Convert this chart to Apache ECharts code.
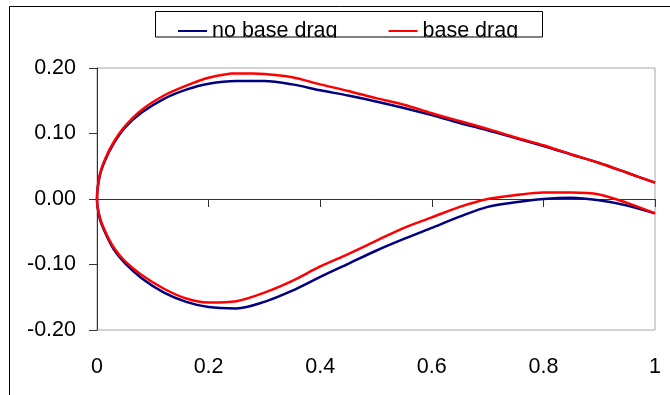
<!DOCTYPE html>
<html>
<head>
<meta charset="utf-8">
<script src="https://cdn.jsdelivr.net/npm/echarts@6/dist/echarts.min.js"></script>
<style>
  html, body { margin: 0; padding: 0; background: #fff; }
  #chart { width: 670px; height: 395px; }
</style>
</head>
<body>
<div id="chart"></div>
<script>
// values, trailing edge (upper) -> leading edge -> trailing edge (lower)
var upperX = [1.0, 0.95, 0.9, 0.85, 0.8, 0.75, 0.7, 0.65, 0.6, 0.55, 0.5, 0.45, 0.4, 0.35, 0.3, 0.25, 0.2, 0.16, 0.12, 0.08, 0.05, 0.03, 0.015, 0.005, 0];
var lowerX = [0, 0.005, 0.015, 0.03, 0.05, 0.08, 0.12, 0.16, 0.2, 0.25, 0.3, 0.35, 0.4, 0.45, 0.5, 0.55, 0.6, 0.65, 0.7, 0.75, 0.8, 0.85, 0.9, 0.95, 1.0];

var noDragUpper = [0.025, 0.040, 0.055, 0.068, 0.081, 0.093, 0.105, 0.116, 0.128, 0.139, 0.149, 0.158, 0.166, 0.175, 0.180, 0.180, 0.176, 0.167, 0.153, 0.132, 0.109, 0.085, 0.060, 0.036, 0];
var noDragLower = [0, -0.030, -0.052, -0.077, -0.098, -0.121, -0.143, -0.157, -0.165, -0.167, -0.157, -0.140, -0.119, -0.099, -0.079, -0.061, -0.044, -0.027, -0.012, -0.005, 0.000, 0.002, -0.002, -0.010, -0.022];

var baseDragUpper = [0.025, 0.040, 0.055, 0.068, 0.082, 0.094, 0.107, 0.119, 0.131, 0.144, 0.154, 0.165, 0.175, 0.186, 0.191, 0.192, 0.185, 0.173, 0.158, 0.136, 0.111, 0.087, 0.062, 0.037, 0];
var baseDragLower = [0, -0.028, -0.050, -0.074, -0.095, -0.116, -0.137, -0.152, -0.158, -0.156, -0.143, -0.125, -0.103, -0.084, -0.064, -0.044, -0.028, -0.012, 0.000, 0.006, 0.010, 0.010, 0.007, -0.006, -0.022];

var seriesNames = ['no base drag', 'base drag'];
var seriesColors = ['#000080', '#ff0000'];

function buildPairs(up, low) {
    var pts = [];
    for (var i = 0; i < upperX.length; i++) pts.push([upperX[i], up[i]]);
    for (var j = 1; j < lowerX.length; j++) pts.push([lowerX[j], low[j]]);
    return pts;
}

var font = "'Liberation Sans', Arial, sans-serif";
var dom = document.getElementById('chart');
var chart = echarts.init(dom, null, { renderer: 'canvas' });

var option = {
    animation: false,
    backgroundColor: '#fff',
    textStyle: { fontFamily: font, color: '#000' },
    legend: {
        data: seriesNames,
        left: 178,
        top: 20,
        padding: 0,
        itemGap: 51,
        itemWidth: 29,
        itemHeight: 2,
        icon: 'rect',
        textStyle: { fontFamily: font, fontSize: 21.5, color: '#000' }
    },
    grid: {
        left: 97,
        right: 15,
        top: 68,
        bottom: 65,
        show: true,
        borderColor: '#a6a6a6',
        borderWidth: 1,
        backgroundColor: '#fff'
    },
    xAxis: [
        {
            type: 'value',
            min: 0, max: 1, interval: 0.2,
            position: 'bottom',
            axisLine: { show: false, onZero: false },
            axisTick: { show: false },
            splitLine: { show: false },
            axisLabel: {
                margin: 26,
                fontSize: 21.5,
                fontFamily: font,
                color: '#000',
                formatter: function (v) { return (v === 0 || v === 1) ? String(v) : v.toFixed(1); }
            }
        },
        {
            type: 'value',
            min: 0, max: 1, interval: 0.2,
            position: 'bottom',
            axisLine: { show: true, onZero: true, lineStyle: { color: '#333', width: 1 } },
            axisTick: { show: true, length: 8, lineStyle: { color: '#333' } },
            axisLabel: { show: false },
            splitLine: { show: false }
        }
    ],
    yAxis: {
        type: 'value',
        min: -0.2, max: 0.2, interval: 0.1,
        axisLine: { show: true, onZero: false, lineStyle: { color: '#333', width: 1 } },
        axisTick: { show: true, length: 8, lineStyle: { color: '#333' } },
        splitLine: { show: false },
        axisLabel: {
            margin: 21,
            fontSize: 21.5,
            fontFamily: font,
            color: '#000',
            formatter: function (v) { return v.toFixed(2); }
        }
    },
    series: [
        {
            name: seriesNames[0],
            type: 'line',
            xAxisIndex: 0,
            data: buildPairs(noDragUpper, noDragLower),
            showSymbol: false,
            smooth: 0.3,
            color: seriesColors[0],
            lineStyle: { color: seriesColors[0], width: 2.5 }
        },
        {
            name: seriesNames[1],
            type: 'line',
            xAxisIndex: 0,
            data: buildPairs(baseDragUpper, baseDragLower),
            showSymbol: false,
            smooth: 0.3,
            color: seriesColors[1],
            lineStyle: { color: seriesColors[1], width: 2.5 }
        }
    ],
    graphic: [
        // outer chart frame
        { type: 'rect', z: 100, shape: { x: 9.5, y: 6.5, width: 700, height: 500 }, style: { fill: null, stroke: '#000', lineWidth: 1 } },
        // cover below the legend box (text is clipped there)
        { type: 'rect', z: 100, shape: { x: 157, y: 37.5, width: 385, height: 9 }, style: { fill: '#fff' } },
        // legend box
        { type: 'rect', z: 101, shape: { x: 155.5, y: 11.5, width: 387, height: 25.5 }, style: { fill: null, stroke: '#000', lineWidth: 1 } }
    ]
};

chart.setOption(option);
</script>
</body>
</html>
